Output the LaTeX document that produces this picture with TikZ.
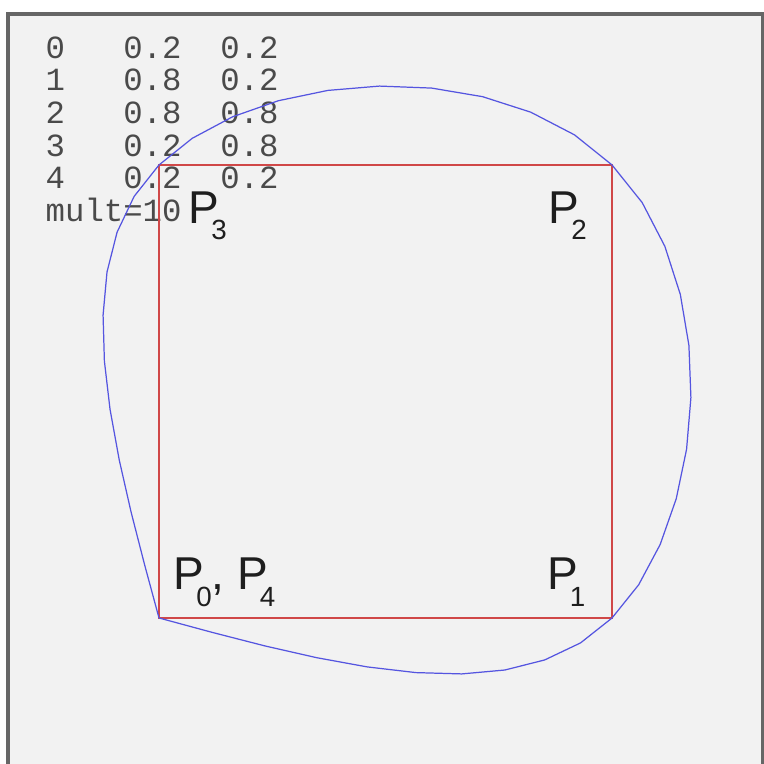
\documentclass[tikz,border=0pt]{standalone}
\usepackage{fontspec}
\setmainfont{Liberation Sans}
\setmonofont{Liberation Mono}
\usepackage{xcolor}

\definecolor{framegray}{HTML}{666666}
\definecolor{panel}{HTML}{F2F2F2}
\definecolor{sqred}{HTML}{D04848}
\definecolor{curveblue}{HTML}{5555E0}
\definecolor{ink}{HTML}{1E1E1E}
\definecolor{listgray}{HTML}{4A4A4A}

% P with a low subscript
\newcommand{\psub}[1]{P\kern-2.3pt\raisebox{-4.7pt}{\fontsize{7.9}{7.9}\selectfont #1}}

\begin{document}
\begin{tikzpicture}[x=7.55cm,y=7.55cm,
  square/.style={draw=sqred,line width=0.6pt},
  curve/.style={draw=curveblue,line width=0.35pt,line join=round},
  plabel/.style={anchor=base west,inner sep=0pt,text=ink,font=\fontsize{13.1}{13.1}\selectfont},
  listrow/.style={anchor=base west,inner sep=0pt,text=listgray,font=\ttfamily\fontsize{9.2}{9.2}\selectfont}]
  \useasboundingbox[fill=white] (-0.0106,0.0066) rectangle (1.0013,1.0185);
  \draw[framegray,line width=1pt,fill=panel] (0,0) rectangle (1,1);

  % point list
  \foreach \i/\cx/\cy in {0/0.2/0.2,1/0.8/0.2,2/0.8/0.8,3/0.2/0.8,4/0.2/0.2}
    \node[listrow] (row\i) at (0.049,0.9413-0.04318*\i) {\i\ \ \ \cx\ \ \cy};
  \node[listrow] (mult) at (0.049,0.9413-0.04318*5) {mult=10};

  \coordinate (P0) at (0.2,0.2);
  \coordinate (P1) at (0.8,0.2);
  \coordinate (P2) at (0.8,0.8);
  \coordinate (P3) at (0.2,0.8);
  \draw[square] (P0) -- (P1) -- (P2) -- (P3) -- cycle;

  % natural cubic spline through P0..P4, 10 steps per piece
  \draw[curve] (P0)
    \foreach \xa/\xb/\ma/\mb/\ya/\yb/\na/\nb in {
      0.2/0.8/0/-0.642857/0.2/0.2/0/1.157143,
      0.8/0.8/-0.642857/-1.028571/0.2/0.8/1.157143/-1.028571,
      0.8/0.2/-1.028571/1.157143/0.8/0.8/-1.028571/-0.642857,
      0.2/0.2/1.157143/0/0.8/0.2/-0.642857/0}{
      -- plot[domain=0:1,samples=11,variable=\s]
        ({(\ma)*(1-\s)^3/6+(\mb)*\s^3/6+(\xa-(\ma)/6)*(1-\s)+(\xb-(\mb)/6)*\s},
         {(\na)*(1-\s)^3/6+(\nb)*\s^3/6+(\ya-(\na)/6)*(1-\s)+(\yb-(\nb)/6)*\s})
    };

  \node[plabel] (lblP3) at (0.2384,0.7228) {\psub{3}};
  \node[plabel] (lblP2) at (0.7152,0.7228) {\psub{2}};
  \node[plabel] (lblP1) at (0.7132,0.2377) {\psub{1}};
  \node[plabel] (lblP0) at (0.2185,0.2371) {\psub{0}, \psub{4}};
\end{tikzpicture}
\end{document}
